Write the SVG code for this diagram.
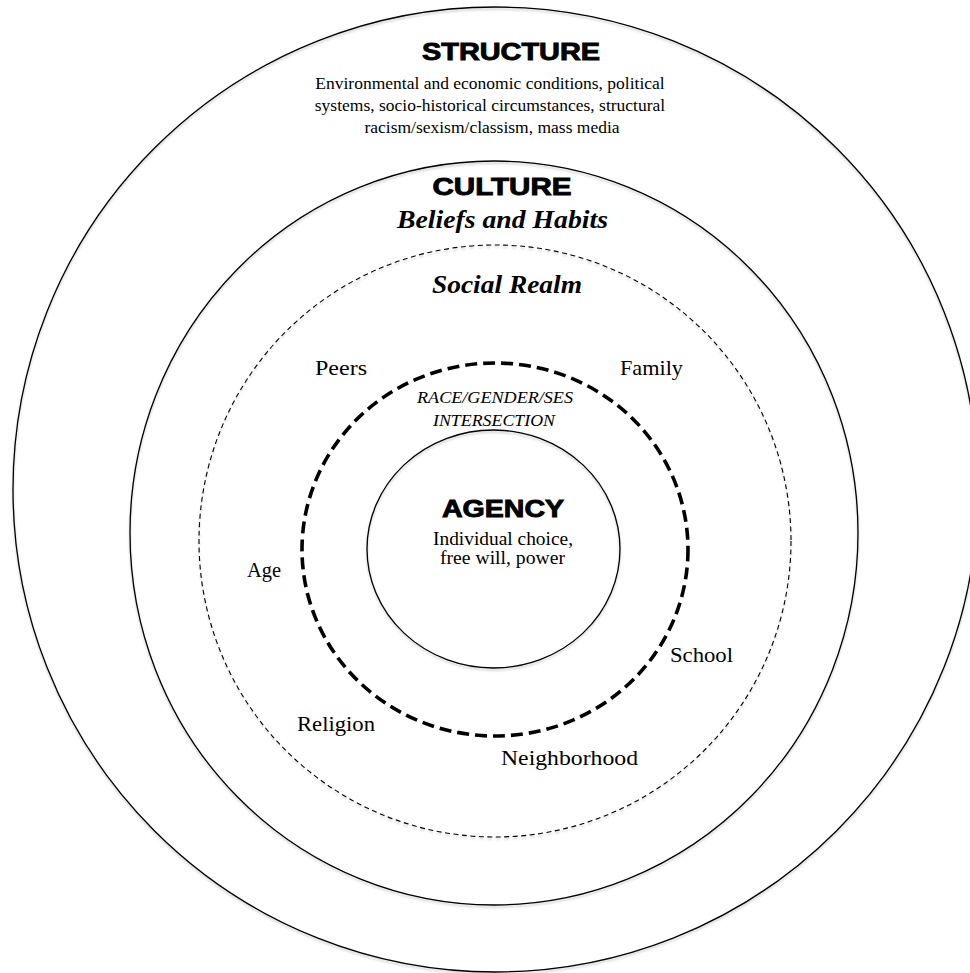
<svg xmlns="http://www.w3.org/2000/svg" width="970" height="973" viewBox="0 0 970 973">
<defs>
<filter id="sh" x="-5%" y="-5%" width="110%" height="110%">
<feDropShadow dx="0" dy="2" stdDeviation="1.2" flood-color="#000" flood-opacity="0.22"/>
</filter>
</defs>
<style>
.ring{fill:none;stroke:#000;stroke-width:1.3;filter:url(#sh)}
.thin{fill:none;stroke:#000;stroke-width:1.1;stroke-dasharray:5 3.5;filter:url(#sh)}
.bold{fill:none;stroke:#000;stroke-width:3.6;stroke-dasharray:12 6}
.head{font-family:"Liberation Sans",Arial,sans-serif;font-weight:bold;font-size:24px;text-anchor:middle;stroke:#000;stroke-width:0.9}
.body{font-family:"Liberation Serif","Times New Roman",serif;font-size:17.5px;text-anchor:middle;fill:#000}
.lbl{font-family:"Liberation Serif","Times New Roman",serif;font-size:21px;fill:#000}
.bi{font-family:"Liberation Serif","Times New Roman",serif;font-size:26px;font-weight:bold;font-style:italic;text-anchor:middle}
.it{font-family:"Liberation Serif","Times New Roman",serif;font-size:17.5px;font-style:italic;text-anchor:middle;fill:#000}
</style>
<rect width="970" height="973" fill="#fff"/>
<g id="structure">
<circle class="ring" cx="495.5" cy="489.5" r="482.5"/>
<text class="head" x="511" y="60" textLength="178" lengthAdjust="spacingAndGlyphs">STRUCTURE</text>
<text class="body" x="490" y="89">Environmental and economic conditions, political</text>
<text class="body" x="490" y="111">systems, socio-historical circumstances, structural</text>
<text class="body" x="492" y="133">racism/sexism/classism, mass media</text>
</g>
<g id="culture">
<ellipse class="ring" cx="494" cy="533" rx="364" ry="372"/>
<text class="head" x="502" y="195" textLength="139" lengthAdjust="spacingAndGlyphs">CULTURE</text>
<text class="bi" x="502.5" y="228" textLength="211" lengthAdjust="spacingAndGlyphs">Beliefs and Habits</text>
</g>
<g id="social">
<circle class="thin" cx="495" cy="541" r="296"/>
<text class="bi" x="507" y="293" textLength="150" lengthAdjust="spacingAndGlyphs">Social Realm</text>
<text class="lbl" x="315" y="375" textLength="52" lengthAdjust="spacingAndGlyphs">Peers</text>
<text class="lbl" x="620" y="375" textLength="63" lengthAdjust="spacingAndGlyphs">Family</text>
<text class="lbl" x="247" y="577" textLength="34" lengthAdjust="spacingAndGlyphs">Age</text>
<text class="lbl" x="670" y="662" textLength="63" lengthAdjust="spacingAndGlyphs">School</text>
<text class="lbl" x="297" y="731" textLength="78" lengthAdjust="spacingAndGlyphs">Religion</text>
<text class="lbl" x="501" y="765" textLength="137" lengthAdjust="spacingAndGlyphs">Neighborhood</text>
</g>
<g id="intersection">
<ellipse class="bold" cx="495" cy="549.5" rx="193" ry="186.5"/>
<text class="it" x="495" y="403" textLength="156" lengthAdjust="spacingAndGlyphs">RACE/GENDER/SES</text>
<text class="it" x="494" y="426" textLength="122" lengthAdjust="spacingAndGlyphs">INTERSECTION</text>
</g>
<g id="agency">
<ellipse class="ring" cx="493.5" cy="549" rx="126.5" ry="119"/>
<text class="head" x="503" y="517" textLength="122" lengthAdjust="spacingAndGlyphs">AGENCY</text>
<text class="body" x="503" y="545" style="font-size:19px" textLength="140" lengthAdjust="spacingAndGlyphs">Individual choice,</text>
<text class="body" x="502.5" y="564" style="font-size:19px" textLength="125" lengthAdjust="spacingAndGlyphs">free will, power</text>
</g>
<g id="connectors"></g>
</svg>
